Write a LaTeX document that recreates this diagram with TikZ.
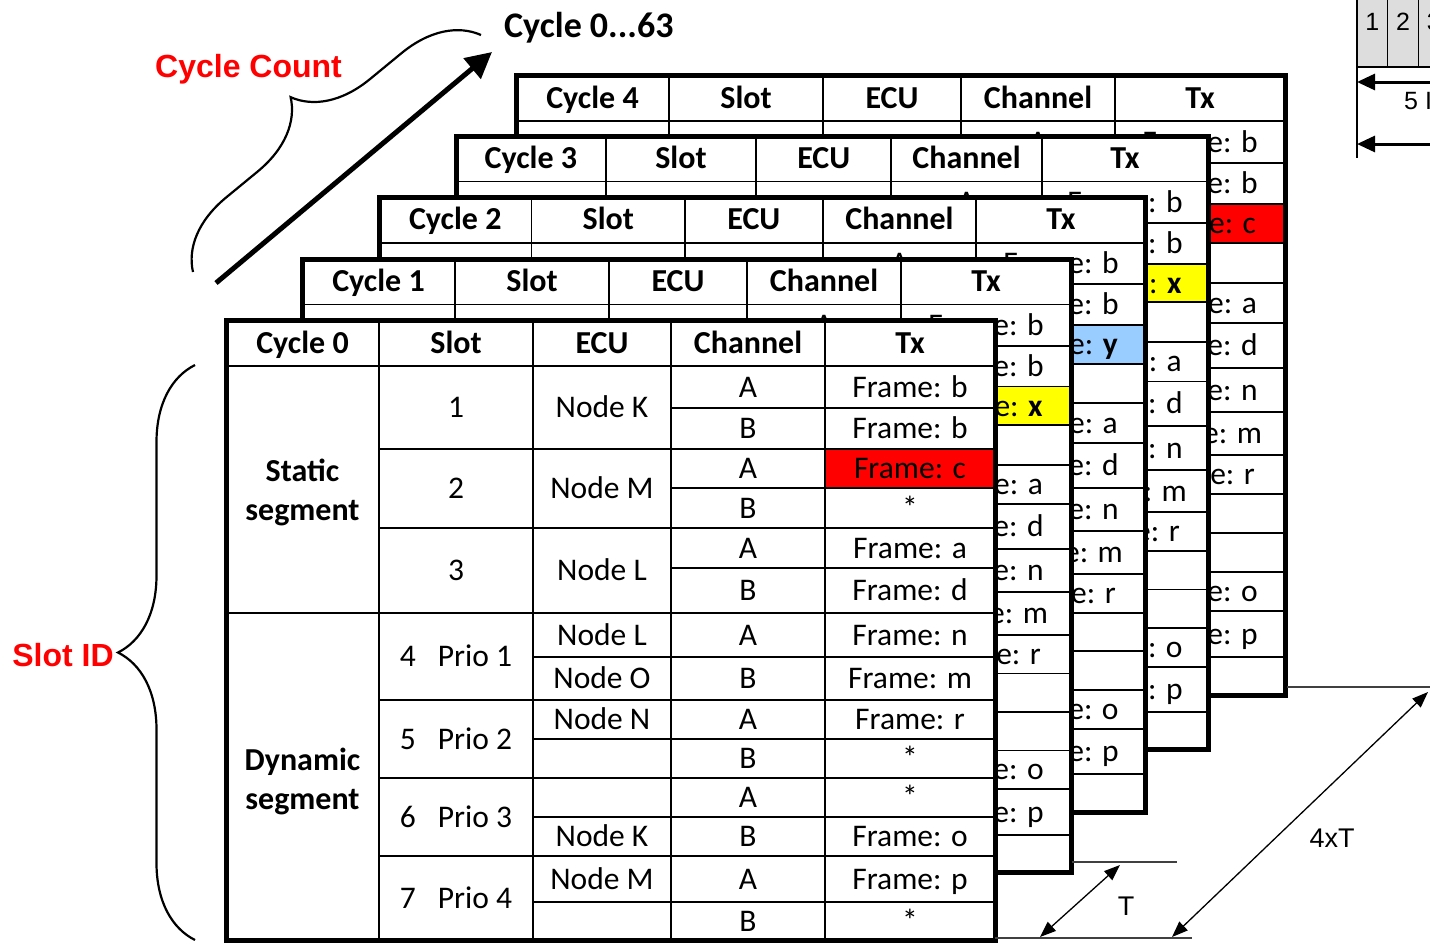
\documentclass[tikz,border=0pt]{standalone}
\usepackage{fontspec}
\setmainfont{Carlito}
\newfontfamily\arialfont{Liberation Sans}
\usepackage{tikz}
\usetikzlibrary{arrows.meta}
\usetikzlibrary{decorations.pathreplacing}

\definecolor{framered}{RGB}{255,0,0}
\definecolor{frameyellow}{RGB}{255,255,0}
\definecolor{frameblue}{RGB}{153,204,255}
\definecolor{bitgray}{RGB}{221,221,221}

\tikzset{
  cellline/.style={line width=1.8pt},
  tableborder/.style={line width=5pt},
  celltext/.style={font=\fontsize{31.5}{36}\selectfont, text height=20.3pt, text depth=0pt, inner sep=0pt},
  headtext/.style={celltext, font=\fontsize{32}{36}\selectfont\bfseries},
  segtext/.style={font=\fontsize{32}{39}\selectfont\bfseries, align=center, inner sep=0pt},
  redlabel/.style={font=\arialfont\fontsize{32}{36}\selectfont\bfseries, text=framered, text height=23pt, text depth=0pt, inner sep=0pt},
  bracket/.style={line width=2.2pt, decorate, decoration={brace, amplitude=#1}},
  bigarrow/.style={line width=5pt, -{Triangle[length=26pt,width=26pt]}},
  dimline/.style={line width=1.2pt, black!75},
  dimarrow/.style={line width=1.3pt, {Triangle[length=16pt,width=12pt]}-{Triangle[length=16pt,width=12pt]}},
  dimtext/.style={font=\arialfont\fontsize{27}{30}\selectfont, inner sep=0pt},
  bitcell/.style={draw, line width=1.3pt, fill=bitgray, minimum width=30.7pt, minimum height=90pt, inner sep=0pt, font=\arialfont\fontsize{25}{28}\selectfont},
  bitarrow/.style={line width=3pt, -{Triangle[length=18pt,width=16pt]}}
}

\newcommand{\cycletable}[8]{%
  \begin{scope}[shift={(#1,#2)}, xscale=#3, yscale=#4]
    \fill[white] (0,0) rectangle (769,620);
    \fill[#7] (599,129) rectangle (769,168);
    \draw[cellline] (0,46) -- (769,46) (0,293) -- (769,293);
    \foreach \y in {129,208,380,458,536}
      \draw[cellline] (153,\y) -- (769,\y);
    \foreach \y in {88,168,248}
      \draw[cellline] (445,\y) -- (769,\y);
    \foreach \y in {337,419,497,582}
      \draw[cellline] (307,\y) -- (769,\y);
    \foreach \x in {153,307,445,599}
      \draw[cellline] (\x,0) -- (\x,620);
    \foreach \x/\t [count=\i] in {76.5/#6,230/Slot,376/ECU,522/Channel,684/Tx}
      \node[headtext] (#5-head\i) at (\x,23) {\t};
    \node[segtext] (#5-static) at (76.5,172.5) {Static\\segment};
    \node[segtext] (#5-dynamic) at (76.5,461) {Dynamic\\segment};
    \foreach \y/\t [count=\i] in {87.5/1,168.5/2,250.5/3,336.5/4\hspace{22pt}Prio 1,419/5\hspace{22pt}Prio 2,497/6\hspace{22pt}Prio 3,578/7\hspace{22pt}Prio 4}
      \node[celltext] (#5-slot\i) at (230,\y) {\t};
    \foreach \y/\t [count=\i] in {87.5/Node K,168.5/Node M,250.5/Node L,315/Node L,358.5/Node O,399.5/Node N,516.5/Node K,559/Node M}
      \node[celltext] (#5-ecu\i) at (376,\y) {\t};
    \foreach \y/\t [count=\i] in {67/A,108.5/B,148.5/A,188/B,228/A,270.5/B,315/A,358.5/B,399.5/A,438.5/B,477.5/A,516.5/B,559/A,601/B}
      \node[celltext] (#5-chan\i) at (522,\y) {\t};
    \foreach \y/\t/\n in {67/Frame: b/1,108.5/Frame: b/2,188/*/4,228/Frame: a/5,270.5/Frame: d/6,315/Frame: n/7,358.5/Frame: m/8,399.5/Frame: r/9,438.5/*/10,477.5/*/11,516.5/Frame: o/12,559/Frame: p/13,601/*/14}
      \node[celltext] (#5-tx\n) at (684,\y) {\t};
    \node[celltext] (#5-tx3) at (684,148.5) {#8};
    \draw[tableborder] (0,0) rectangle (769,620);
  \end{scope}}

\begin{document}
\begin{tikzpicture}[x=1pt,y=-1pt]
\useasboundingbox (0,0) rectangle (1430,943);

\cycletable{516}{75}{1}{1}{c4}{Cycle 4}{framered}{Frame: c}
\cycletable{456}{136}{0.978}{0.99}{c3}{Cycle 3}{frameyellow}{Frame: \textbf{x}}
\cycletable{379}{197}{0.997}{0.992}{c2}{Cycle 2}{frameblue}{Frame: \textbf{y}}
\cycletable{302}{259}{1}{0.989}{c1}{Cycle 1}{frameyellow}{Frame: \textbf{x}}
\cycletable{226}{320}{1}{1}{c0}{Cycle 0}{framered}{Frame: c}

\coordinate (slotbrace-bot) at (195,940);
\coordinate (slotbrace-top) at (195,365);
\draw[bracket=77pt] (slotbrace-bot) -- (slotbrace-top);
\node[redlabel] (slotid) at (63,655) {Slot ID};

\coordinate (cyclebrace-low) at (193,272);
\coordinate (cyclebrace-high) at (481,35);
\draw[bracket=73pt] (cyclebrace-low) -- (cyclebrace-high);
\node[redlabel, anchor=west] (cyclecount) at (155,66) {Cycle Count};

\coordinate (countarrow-start) at (216,283);
\coordinate (countarrow-end) at (492,52);
\draw[bigarrow] (countarrow-start) -- (countarrow-end);
\node[headtext, font=\fontsize{36}{40}\selectfont\bfseries, text height=23.2pt, anchor=west] (cyclerange) at (504,26) {Cycle 0...63};

\draw[dimline] (1287,687) -- (1430,687);
\draw[dimline] (1072,862) -- (1177,862);
\draw[dimline] (995,938) -- (1192,938);
\coordinate (t-low) at (1040,937);
\coordinate (t-high) at (1120,865);
\draw[dimarrow] (t-low) -- (t-high);
\node[dimtext] (t-label) at (1126,906) {T};
\coordinate (fourt-low) at (1172,937);
\coordinate (fourt-high) at (1428,692);
\draw[dimarrow] (fourt-low) -- (fourt-high);
\node[dimtext] (fourt-label) at (1332,838) {4xT};

\foreach \x/\t [count=\i] in {1372.3/1,1403/2,1433.7/3}
  \node[bitcell] (bit\i) at (\x,22) {\t};
\draw[line width=2.5pt] (1357,67) -- (1357,158);
\coordinate (bits-r1) at (1445,82);
\coordinate (bits-l1) at (1357,82);
\draw[bitarrow] (bits-r1) -- (bits-l1);
\coordinate (bits-r2) at (1445,144);
\coordinate (bits-l2) at (1357,144);
\draw[bitarrow] (bits-r2) -- (bits-l2);
\node[dimtext, font=\arialfont\fontsize{25}{28}\selectfont, anchor=west] (bits-label) at (1404,101) {5 I};
\end{tikzpicture}
\end{document}
